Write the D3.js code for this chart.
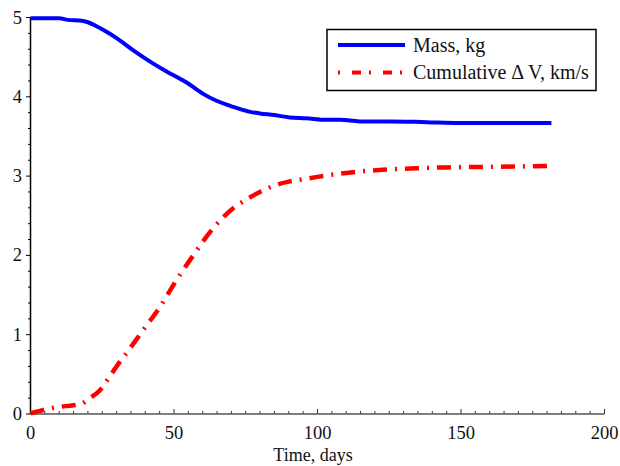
<!DOCTYPE html>
<html lang="en">
<head>
  <meta charset="UTF-8" />
  <title>Mass and Cumulative Delta V</title>
  <style>
    body { margin: 0; padding: 0; background: #fff; }
    svg { display: block; }
    text { font-family: "Liberation Serif", "Times New Roman", serif; fill: #111; }
  </style>
  <script src="https://d3js.org/d3.v7.min.js"></script>
</head>
<body>
  <svg width="620" height="466"></svg>
  <script>
    // values
    const massDays = [0, 7, 10, 13, 17.8, 20, 23, 26.5, 30, 35.7, 41, 47.4, 54.4, 60, 64.8, 70, 76.5, 80, 85, 90.3, 96, 103, 108, 114.7, 125, 137.9, 149.5, 165, 181.5];
    const massKg = [4.99, 4.99, 4.99, 4.97, 4.96, 4.94, 4.89, 4.82, 4.74, 4.59, 4.46, 4.32, 4.18, 4.04, 3.95, 3.88, 3.81, 3.79, 3.77, 3.74, 3.73, 3.71, 3.71, 3.69, 3.69, 3.68, 3.67, 3.67, 3.67];

    const dvDays = [0, 3.3, 6.8, 10, 14.9, 17.8, 20.7, 24.2, 27, 30, 33.5, 39.3, 45.1, 50.9, 56.7, 63.6, 71.2, 75, 79.9, 85.7, 90, 95, 100, 110, 122.7, 135, 145, 168, 181.5];
    const dvKms = [0.01, 0.04, 0.07, 0.09, 0.11, 0.13, 0.2, 0.3, 0.44, 0.6, 0.77, 1.06, 1.35, 1.69, 2.0, 2.34, 2.61, 2.7, 2.8, 2.89, 2.93, 2.96, 2.99, 3.04, 3.08, 3.1, 3.11, 3.12, 3.13];

    const xTicks = [0, 50, 100, 150, 200];
    const yTicks = [0, 1, 2, 3, 4, 5];
    const seriesNames = ["Mass, kg", "Cumulative \u0394 V, km/s"];

    const svg = d3.select("svg");
    const x = d3.scaleLinear().domain([0, 200]).range([30.5, 604.5]);
    const y = d3.scaleLinear().domain([0, 5]).range([414, 17.5]);

    // minor ticks
    svg.append("g")
      .attr("stroke", "#333")
      .selectAll("line.xm")
      .data(d3.range(0, 201, 5))
      .join("line")
      .attr("x1", d => x(d)).attr("x2", d => x(d))
      .attr("y1", 414).attr("y2", d => d % 50 === 0 ? 409 : 411);

    svg.append("g")
      .attr("stroke", "#000")
      .selectAll("line.ym")
      .data(d3.range(0, 5.01, 0.2))
      .join("line")
      .attr("y1", d => y(d)).attr("y2", d => y(d))
      .attr("x1", 30.5).attr("x2", d => Math.abs(d - Math.round(d)) < 1e-6 ? 26 : 28);

    // axis lines
    svg.append("line").attr("x1", 30.5).attr("x2", 604.5).attr("y1", 414).attr("y2", 414)
      .attr("stroke", "#555").attr("stroke-width", 1.5);
    svg.append("line").attr("x1", 30.5).attr("x2", 30.5).attr("y1", 17.5).attr("y2", 414)
      .attr("stroke", "#000").attr("stroke-width", 1.5);

    // tick labels
    svg.append("g").selectAll("text")
      .data(xTicks)
      .join("text")
      .attr("x", d => x(d))
      .attr("y", 439)
      .attr("text-anchor", "middle")
      .attr("font-size", 18.5)
      .text(d => d);

    svg.append("g").selectAll("text")
      .data(yTicks)
      .join("text")
      .attr("x", 22)
      .attr("y", d => y(d) + 6)
      .attr("text-anchor", "end")
      .attr("font-size", 18.5)
      .text(d => d);

    svg.append("text")
      .attr("x", 313)
      .attr("y", 461)
      .attr("text-anchor", "middle")
      .attr("font-size", 18)
      .text("Time, days");

    const line = d3.line().x(d => x(d[0])).y(d => y(d[1])).curve(d3.curveMonotoneX);

    svg.append("path")
      .datum(massDays.map((d, i) => [d, massKg[i]]))
      .attr("d", line)
      .attr("fill", "none")
      .attr("stroke", "#0000ff")
      .attr("stroke-width", 4);

    svg.append("path")
      .datum(dvDays.map((d, i) => [d, dvKms[i]]))
      .attr("d", line)
      .attr("fill", "none")
      .attr("stroke", "#ff0000")
      .attr("stroke-width", 4.5)
      .attr("stroke-dasharray", "14,8,2,8");

    // legend
    const legend = svg.append("g");
    legend.append("rect")
      .attr("x", 327).attr("y", 29.5).attr("width", 269).attr("height", 61)
      .attr("fill", "#fff").attr("stroke", "#000").attr("stroke-width", 1.5);

    const legendStyles = [
      { color: "#0000ff", dash: null },
      { color: "#ff0000", dash: "2,12,9,8" }
    ];
    seriesNames.forEach((name, i) => {
      const ly = 45 + i * 27.5;
      legend.append("line")
        .attr("x1", 338).attr("x2", 405).attr("y1", ly).attr("y2", ly)
        .attr("stroke", legendStyles[i].color)
        .attr("stroke-width", 4)
        .attr("stroke-dasharray", legendStyles[i].dash);
      legend.append("text")
        .attr("x", 413)
        .attr("y", ly + 6.5)
        .attr("font-size", 20)
        .text(name);
    });
  </script>
</body>
</html>
